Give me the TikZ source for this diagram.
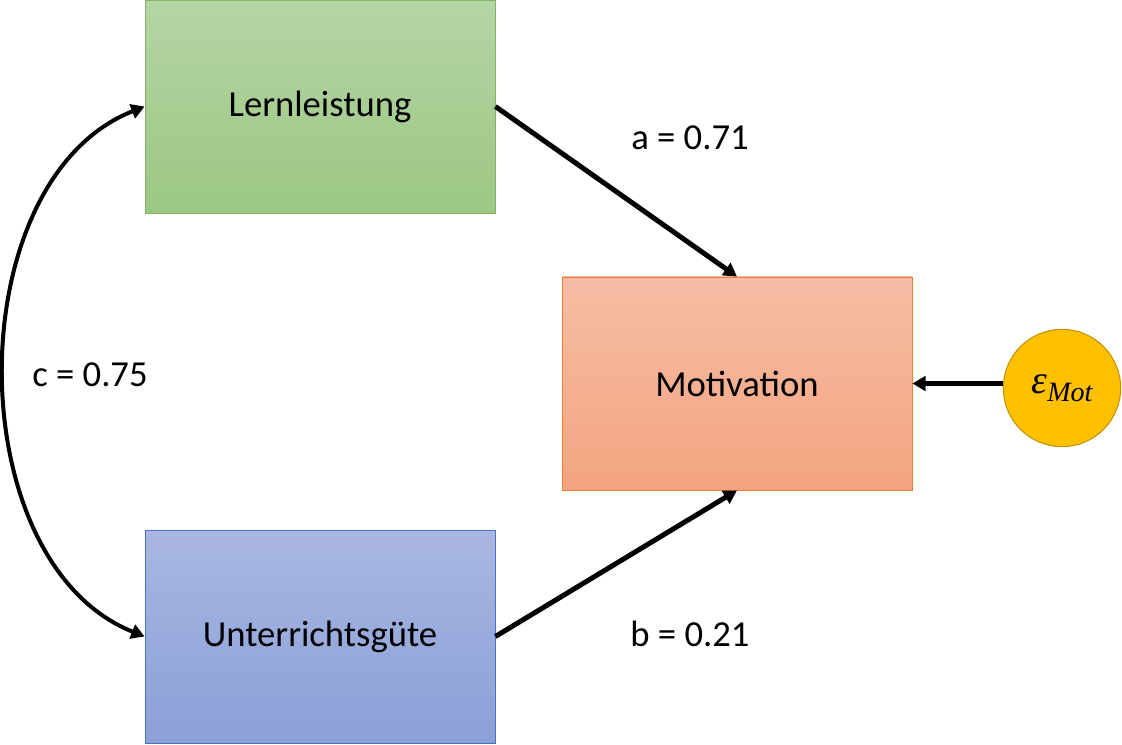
\documentclass[tikz,border=0pt]{standalone}
\usepackage{fontspec}
\setmainfont{Carlito}
\newfontfamily\epsschrift{Liberation Serif}
\usetikzlibrary{arrows.meta}
\definecolor{lernoben}{HTML}{B5D5A5}
\definecolor{lernunten}{HTML}{9CC784}
\definecolor{lernrand}{HTML}{82B366}
\definecolor{unteroben}{HTML}{A9B7E1}
\definecolor{unterunten}{HTML}{8AA0D8}
\definecolor{unterrand}{HTML}{4472C4}
\definecolor{motoben}{HTML}{F6BDA5}
\definecolor{motunten}{HTML}{F4A47F}
\definecolor{motrand}{HTML}{ED7D31}
\definecolor{epsgelb}{HTML}{FFC000}
\definecolor{epsrand}{HTML}{BF9000}
\begin{document}
\begin{tikzpicture}[x=0.75pt,y=0.75pt,
        box/.style={rectangle,inner sep=0pt,line width=0.6pt,minimum width=262.5pt,minimum height=159.75pt,font=\fontsize{27.5}{33}\selectfont},
        pfeil/.style={line width=3.75pt,-{Triangle[length=10pt,width=11pt]}},
        lbl/.style={font=\fontsize{27.5}{33}\selectfont}]
        \useasboundingbox (0,0) rectangle (1122,744);
        %Cajas
        \node[box,draw=lernrand,top color=lernoben,bottom color=lernunten] (lern) at (320,637.5) {Lernleistung};
        \node[box,draw=unterrand,top color=unteroben,bottom color=unterunten] (unter) at (320,107.5) {Unterrichtsgüte};
        \node[box,draw=motrand,top color=motoben,bottom color=motunten] (mot) at (737,360.5) {Motivation};
        \node[circle,draw=epsrand,fill=epsgelb,line width=0.75pt,inner sep=0pt,minimum size=88pt,font=\epsschrift\itshape\fontsize{30}{34}\selectfont] (eps) at (1062,356) {ε\raisebox{-6pt}{\fontsize{21}{24}\selectfont Mot}};
        %Flechas
        \draw[pfeil] (lern.east) -- (mot.north);
        \draw[pfeil] (unter.east) -- (mot.south);
        \draw[pfeil] (eps.west |- mot.east) -- (mot.east);
        \draw[line width=3pt,{Triangle[length=10pt,width=11pt]}-{Triangle[length=10pt,width=11pt]}] (lern.west) .. controls (-42,564) and (-42,182) .. (unter.west);
        %Etiquetas
        \node[lbl] (la) at (690,606) {a = 0.71};
        \node[lbl] (lb) at (690,110) {b = 0.21};
        \node[lbl] (lc) at (90,369) {c = 0.75};
    \end{tikzpicture}
\end{document}
